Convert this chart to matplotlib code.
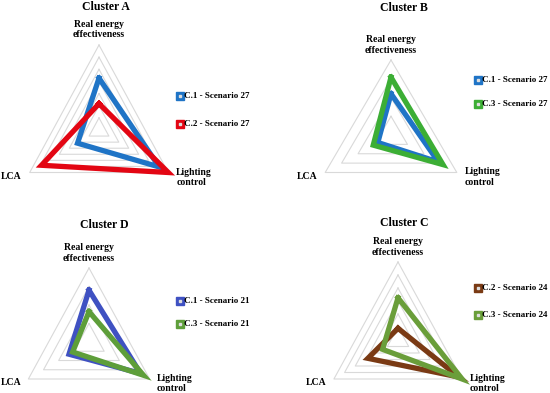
import numpy as np
import matplotlib.pyplot as plt

plt.rcParams['font.family'] = ['Liberation Serif', 'DejaVu Serif']

axis_labels = ["Real energy\neffectiveness", "Lighting\ncontrol", "LCA"]

# values per axis: [real energy effectiveness, lighting control, LCA]
a_c1 = [0.61, 0.87, 0.31]
a_c2 = [0.31, 1.00, 0.83]
b_c1 = [0.55, 0.72, 0.20]
b_c3 = [0.77, 0.79, 0.27]
d_c1 = [0.70, 0.85, 0.33]
d_c3 = [0.41, 0.90, 0.27]
c_c2 = [0.15, 0.95, 0.47]
c_c3 = [0.54, 1.00, 0.24]

W, H = 550, 393
angles = np.deg2rad([90, 330, 210])


def tri(vals):
    v = np.asarray(vals + vals[:1])
    a = np.append(angles, angles[0])
    return v * np.cos(a), v * np.sin(a)


def panel(fig, title, cx, cy, rx, ry, rings, series, leg_x, leg_y):
    L = 1.6
    ax = fig.add_axes([(cx - L * rx) / W, (H - cy - L * ry) / H,
                       2 * L * rx / W, 2 * L * ry / H])
    ax.set_xlim(-L, L)
    ax.set_ylim(-L, L)
    ax.axis('off')
    for k in range(1, rings + 1):
        x, y = tri([k / rings] * 3)
        ax.plot(x, y, color='#d9d9d9', lw=0.8, zorder=1)
    for vals, color, label in series:
        x, y = tri(vals)
        ax.plot(x, y, color=color, lw=3.8, solid_joinstyle='miter', zorder=3)
    # axis labels
    ax.text(0, 1.07, axis_labels[0], ha='center', va='bottom', fontsize=7,
            fontweight='bold', linespacing=1.2)
    ax.text(np.cos(angles[1]) + 0.1, np.sin(angles[1]) - 0.06, axis_labels[1],
            ha='left', va='center', fontsize=7, fontweight='bold', linespacing=1.2)
    ax.text(np.cos(angles[2]) - 0.1, np.sin(angles[2]) - 0.05, axis_labels[2],
            ha='right', va='center', fontsize=7, fontweight='bold')
    fig.text(title[1] / W, 1 - title[2] / H, title[0], ha='center', va='center',
             fontsize=8.5, fontweight='bold')
    for i, (vals, color, label) in enumerate(series):
        yy = 1 - leg_y[i] / H
        fig.lines.append(plt.Line2D([leg_x / W], [yy], marker='s', markersize=6,
                                    color=color, markerfacecolor=color,
                                    markeredgecolor=color, transform=fig.transFigure))
        fig.lines.append(plt.Line2D([leg_x / W], [yy], marker='s', markersize=1.5,
                                    color='#dddddd', transform=fig.transFigure))
        fig.text((leg_x + 4) / W, yy, label, ha='left', va='center', fontsize=6.5,
                 fontweight='bold')


fig = plt.figure(figsize=(5.5, 3.93), dpi=100)

panel(fig, ("Cluster A", 106, 7), 99, 130, 80, 85, 7,
      [(a_c1, '#1f74c6', 'C.1 - Scenario 27'), (a_c2, '#e30613', 'C.2 - Scenario 27')],
      180, [96, 124])
panel(fig, ("Cluster B", 404, 8), 391, 135, 76, 75, 4,
      [(b_c1, '#1f74c6', 'C.1 - Scenario 27'), (b_c3, '#3cae35', 'C.3 - Scenario 27')],
      478, [80, 104])
panel(fig, ("Cluster D", 104, 225), 89, 342, 70, 74, 4,
      [(d_c1, '#3f51c2', 'C.1 - Scenario 21'), (d_c3, '#5e9e3a', 'C.3 - Scenario 21')],
      180, [301, 324])
panel(fig, ("Cluster C", 404, 223), 398, 340, 74, 78, 6,
      [(c_c2, '#7a3a14', 'C.2 - Scenario 24'), (c_c3, '#6a9e3a', 'C.3 - Scenario 24')],
      478, [288, 315])

fig.savefig('out.png', dpi=100)
